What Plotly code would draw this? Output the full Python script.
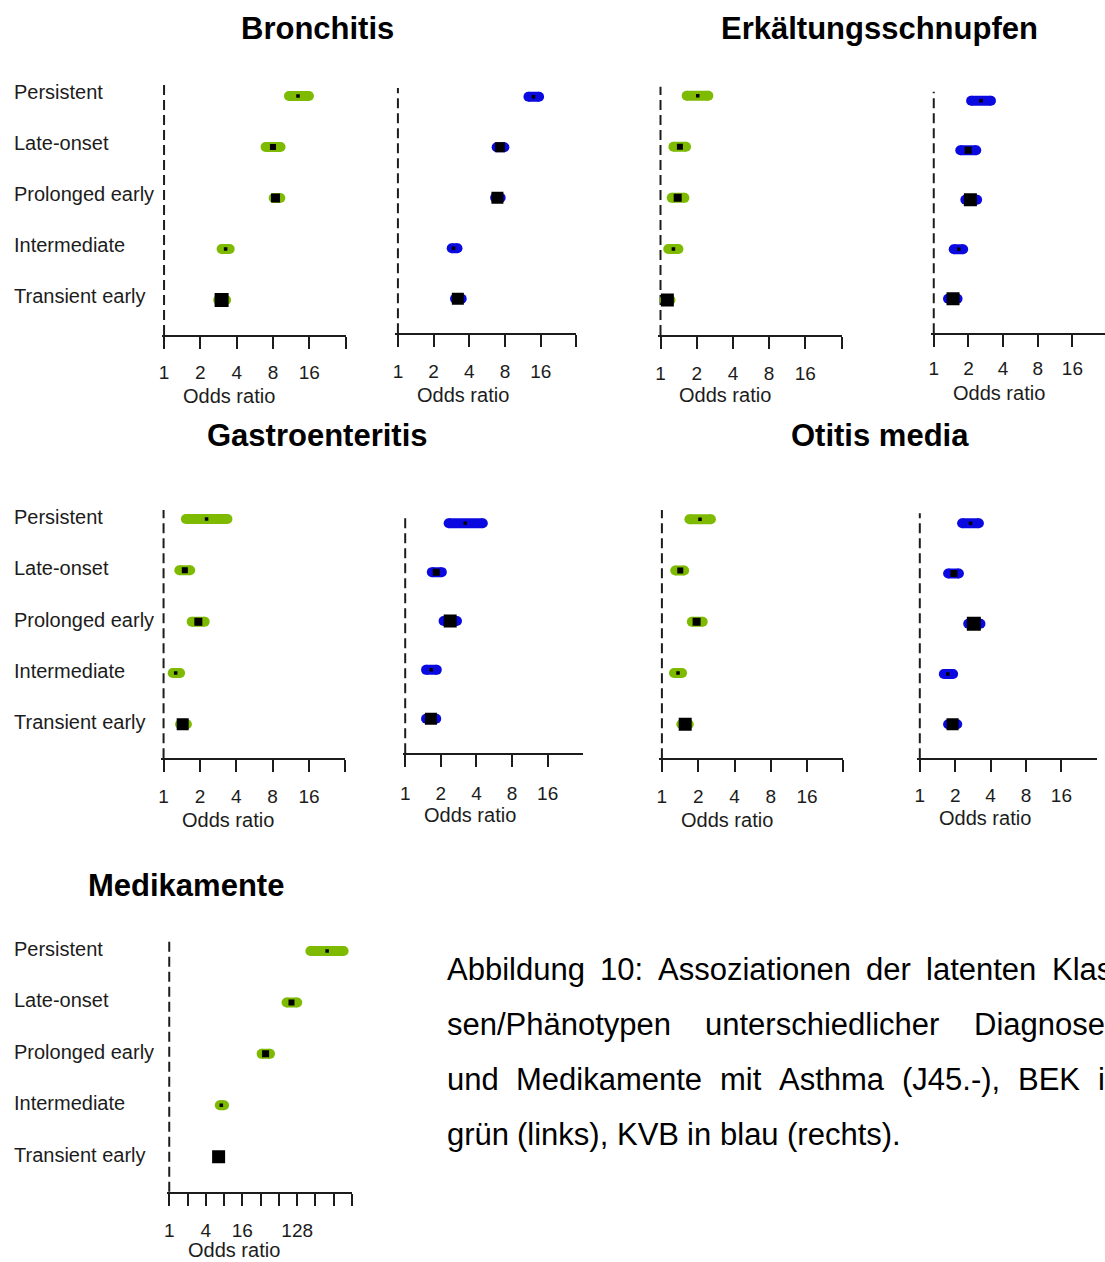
import math
import plotly.graph_objects as go

W, H = 1105, 1262
FONT = "Liberation Sans, Arial, Helvetica, sans-serif"
INK = "#1c1c1c"
GREEN = "#7dba00"
BLUE = "#0a0ae0"

# latent asthma classes, top row first
classes = ["Persistent", "Late-onset", "Prolonged early", "Intermediate", "Transient early"]

# odds ratios (point estimate, lower and upper 95% limit) per class
bronchitis_bek_or = [12.9, 8.0, 8.4, 3.24, 3.0]
bronchitis_bek_lo = [10.85, 6.95, 8.1, 3.0, 2.81]
bronchitis_bek_hi = [15.9, 9.25, 9.2, 3.5, 3.27]

bronchitis_kvb_or = [13.9, 7.25, 6.9, 2.94, 3.2]
bronchitis_kvb_lo = [12.6, 6.8, 6.6, 2.84, 3.03]
bronchitis_kvb_hi = [15.5, 7.9, 7.35, 3.18, 3.45]

erkaeltung_bek_or = [2.04, 1.45, 1.39, 1.28, 1.14]
erkaeltung_bek_lo = [1.65, 1.28, 1.24, 1.16, 1.08]
erkaeltung_bek_hi = [2.50, 1.63, 1.58, 1.41, 1.21]

erkaeltung_kvb_or = [2.57, 1.99, 2.08, 1.65, 1.47]
erkaeltung_kvb_lo = [2.11, 1.70, 1.88, 1.49, 1.33]
erkaeltung_kvb_hi = [3.14, 2.34, 2.38, 1.80, 1.61]

gastro_bek_or = [2.27, 1.50, 1.94, 1.26, 1.44]
gastro_bek_lo = [1.53, 1.35, 1.71, 1.19, 1.37]
gastro_bek_hi = [3.38, 1.66, 2.19, 1.37, 1.56]

gastro_kvb_or = [3.22, 1.83, 2.40, 1.66, 1.65]
gastro_kvb_lo = [2.33, 1.68, 2.11, 1.50, 1.50]
gastro_kvb_hi = [4.53, 2.04, 2.74, 1.85, 1.83]

otitis_bek_or = [2.07, 1.42, 1.94, 1.36, 1.56]
otitis_bek_lo = [1.69, 1.29, 1.77, 1.26, 1.45]
otitis_bek_hi = [2.55, 1.53, 2.18, 1.47, 1.67]

otitis_kvb_or = [2.70, 1.95, 2.88, 1.73, 1.90]
otitis_kvb_lo = [2.29, 1.74, 2.58, 1.60, 1.74]
otitis_kvb_hi = [3.18, 2.15, 3.28, 1.92, 2.08]

medikamente_bek_or = [398, 103, 38.6, 7.2, 6.5]
medikamente_bek_lo = [211, 85.5, 33.2, 6.8, 6.3]
medikamente_bek_hi = [744, 128, 45.6, 8.0, 6.7]

ticks_small = [1, 2, 4, 8, 16, 32]
ticklabels_small = ["1", "2", "4", "8", "16", ""]
ticks_large = [1, 2, 4, 8, 16, 32, 64, 128, 256, 512, 1024]
ticklabels_large = ["1", "", "4", "", "16", "", "", "128", "", "", ""]

titles = ["Bronchitis", "Erkältungsschnupfen", "Gastroenteritis", "Otitis media", "Medikamente"]

caption_lines = [
    ["Abbildung", "10:", "Assoziationen", "der", "latenten", "Klas-"],
    ["sen/Phänotypen", "unterschiedlicher", "Diagnosen"],
    ["und", "Medikamente", "mit", "Asthma", "(J45.-),", "BEK", "in"],
    ["grün", "(links),", "KVB", "in", "blau", "(rechts)."],
]

# ---- styling / page geometry (pixels) ----
# x_one: pixel of OR = 1, dbl: pixels per doubling, x_end: right end of axis,
# y_top: top of dashed reference line, y_axis: axis line, rows: first/last row centre,
# pad: tick-label standoff
square_px = {
    "bb": [3.5, 6, 9, 3.5, 14], "bk": [3.5, 10, 12, 3.5, 12],
    "eb": [3.5, 6, 8, 3.5, 13], "ek": [3.5, 7, 13, 3.5, 13],
    "gb": [3.5, 6, 8, 3.5, 12], "gk": [3.5, 7, 13, 3.5, 12],
    "ob": [3.5, 6, 8, 3.5, 13], "ok": [3.5, 7, 14, 3.5, 12],
    "mb": [3.5, 6, 7, 3.5, 13],
}

panels = [
    dict(key="bb", est=bronchitis_bek_or, lo=bronchitis_bek_lo, hi=bronchitis_bek_hi, color=GREEN,
         x_one=161.5, dbl=36.4, x_end=343.5, y_top=85, y_axis=335, rows=(96, 300), pad=7,
         ticks=ticks_small, labels=ticklabels_small, or_y=396, row_labels=True, lab_shift=4),
    dict(key="bk", est=bronchitis_kvb_or, lo=bronchitis_kvb_lo, hi=bronchitis_kvb_hi, color=BLUE,
         x_one=396, dbl=35.8, x_end=575, y_top=88, y_axis=333.3, rows=(96.7, 298.7), pad=8,
         ticks=ticks_small, labels=ticklabels_small, or_y=395, row_labels=False),
    dict(key="eb", est=erkaeltung_bek_or, lo=erkaeltung_bek_lo, hi=erkaeltung_bek_hi, color=GREEN,
         x_one=659.3, dbl=36.3, x_end=841, y_top=86.7, y_axis=335, rows=(95.7, 300), pad=8,
         ticks=ticks_small, labels=ticklabels_small, or_y=395, row_labels=False),
    dict(key="ek", est=erkaeltung_kvb_or, lo=erkaeltung_kvb_lo, hi=erkaeltung_kvb_hi, color=BLUE,
         x_one=933.3, dbl=34.75, x_end=1105, y_top=91.7, y_axis=333.3, rows=(100.7, 298.7), pad=5,
         ticks=ticks_small, labels=ticklabels_small, or_y=393, row_labels=False),
    dict(key="gb", est=gastro_bek_or, lo=gastro_bek_lo, hi=gastro_bek_hi, color=GREEN,
         x_one=161, dbl=36.46, x_end=343.3, y_top=510, y_axis=758.3, rows=(519, 724.3), pad=8,
         ticks=ticks_small, labels=ticklabels_small, or_y=820, row_labels=True, lab_shift=2),
    dict(key="gk", est=gastro_kvb_or, lo=gastro_kvb_lo, hi=gastro_kvb_hi, color=BLUE,
         x_one=403.3, dbl=35.7, x_end=581.7, y_top=513.3, y_axis=753.3, rows=(523.3, 718.7), pad=10,
         ticks=ticks_small, labels=ticklabels_small, or_y=815, row_labels=False),
    dict(key="ob", est=otitis_bek_or, lo=otitis_bek_lo, hi=otitis_bek_hi, color=GREEN,
         x_one=660.7, dbl=36.4, x_end=842.7, y_top=510, y_axis=758.3, rows=(519.3, 724.3), pad=8,
         ticks=ticks_small, labels=ticklabels_small, or_y=820, row_labels=False),
    dict(key="ok", est=otitis_kvb_or, lo=otitis_kvb_lo, hi=otitis_kvb_hi, color=BLUE,
         x_one=919.3, dbl=35.5, x_end=1096.7, y_top=513.3, y_axis=758.3, rows=(523.3, 724.3), pad=7,
         ticks=ticks_small, labels=ticklabels_small, or_y=818, row_labels=False),
    dict(key="mb", est=medikamente_bek_or, lo=medikamente_bek_lo, hi=medikamente_bek_hi, color=GREEN,
         x_one=166.7, dbl=18.33, x_end=350, y_top=941.7, y_axis=1191.7, rows=(951, 1156.7), pad=8,
         ticks=ticks_large, labels=ticklabels_large, or_y=1250, row_labels=True, lab_shift=2),
]

title_pos = [(315, 28), (879, 28), (315, 436), (879, 436), (183, 885)]
LEFT_PAD_PX = 2.5  # room left of OR = 1 so the dashed line is not clipped

fig = go.Figure()
layout = {}
shapes = []
annotations = []
cat_order = classes[::-1]  # bottom to top on the category axis

for i, p in enumerate(panels, start=1):
    xa = "x" if i == 1 else f"x{i}"
    ya = "y" if i == 1 else f"y{i}"
    xname = "xaxis" if i == 1 else f"xaxis{i}"
    yname = "yaxis" if i == 1 else f"yaxis{i}"

    row_top, row_bot = p["rows"]
    per_row = (row_bot - row_top) / 4
    y_lo = -(p["y_axis"] - row_bot) / per_row
    y_hi = 4 + (row_top - p["y_top"]) / per_row
    x_start = p["x_one"] - LEFT_PAD_PX
    log_per_px = math.log10(2) / p["dbl"]

    layout[xname] = dict(
        type="log", domain=[x_start / W, min(p["x_end"] / W, 1.0)],
        range=[-LEFT_PAD_PX * log_per_px, (p["x_end"] - p["x_one"]) * log_per_px], anchor=ya,
        showline=True, linecolor=INK, linewidth=2,
        ticks="outside", ticklen=12, tickwidth=2, tickcolor=INK,
        tickmode="array", tickvals=p["ticks"], ticktext=p["labels"],
        tickfont=dict(family=FONT, size=19, color=INK), ticklabelstandoff=p["pad"],
        showgrid=False, zeroline=False, fixedrange=True,
    )
    layout[yname] = dict(
        type="category", categoryarray=cat_order, categoryorder="array",
        domain=[1 - p["y_axis"] / H, 1 - p["y_top"] / H], range=[y_lo, y_hi],
        visible=False, anchor=xa, fixedrange=True,
    )

    # dashed reference line at OR = 1
    shapes.append(dict(type="line", xref=xa, yref=f"{ya} domain", x0=1, x1=1, y0=0, y1=1,
                       line=dict(color=INK, width=2, dash="10px,5px"), layer="below"))

    # confidence intervals: thick bars with rounded ends
    xs, ys = [], []
    for c, lo, hi in zip(classes, p["lo"], p["hi"]):
        xs += [lo, hi, None]
        ys += [c, c, None]
    fig.add_trace(go.Scatter(x=xs, y=ys, mode="lines", line=dict(color=p["color"], width=10),
                             xaxis=xa, yaxis=ya, hoverinfo="skip", showlegend=False))
    fig.add_trace(go.Scatter(x=p["lo"] + p["hi"], y=classes + classes, mode="markers",
                             marker=dict(symbol="circle", size=10, color=p["color"],
                                         opacity=1, line=dict(width=0)),
                             xaxis=xa, yaxis=ya, hoverinfo="skip", showlegend=False))
    # point estimates
    fig.add_trace(go.Scatter(x=p["est"], y=classes, mode="markers",
                             marker=dict(symbol="square", size=square_px[p["key"]], color="black",
                                         opacity=1, line=dict(width=0)),
                             xaxis=xa, yaxis=ya, showlegend=False))

    # axis title
    annotations.append(dict(text="Odds ratio", xref="paper", yref="paper",
                            x=(p["x_one"] + 65) / W, y=1 - p["or_y"] / H,
                            xanchor="center", yanchor="middle", showarrow=False,
                            font=dict(family=FONT, size=20, color=INK)))

    # class labels on the left-hand panels
    if p["row_labels"]:
        for c in classes:
            annotations.append(dict(text=c, xref="paper", yref=ya, x=9 / W, y=c,
                                    xanchor="left", yanchor="middle", yshift=p["lab_shift"],
                                    showarrow=False, font=dict(family=FONT, size=20, color=INK)))

for t, (tx, ty) in zip(titles, title_pos):
    annotations.append(dict(text=t, xref="paper", yref="paper", x=tx / W, y=1 - ty / H,
                            xanchor="center", yanchor="middle", showarrow=False,
                            font=dict(family=FONT, size=31, color="black", weight="bold")))

# caption: justified block text set word by word
ADV = {"A": 667, "B": 667, "D": 722, "E": 667, "J": 500, "K": 667, "M": 833, "P": 667, "V": 667,
       "a": 556, "b": 556, "c": 500, "d": 556, "e": 556, "g": 556, "h": 556, "i": 222, "k": 500,
       "l": 222, "m": 833, "n": 556, "o": 556, "p": 556, "r": 333, "s": 500, "t": 278, "u": 556,
       "y": 500, "z": 500, "ä": 556, "ü": 556, "0": 556, "1": 556, "4": 556, "5": 556,
       ":": 278, "/": 278, "(": 333, ")": 333, ".": 278, ",": 278, "-": 333, " ": 278}
CAP_SIZE = 31
CAP_LEFT, CAP_RIGHT = 443, 1120
cap_y = [969, 1024, 1079, 1134]


def word_width(w):
    return sum(ADV.get(ch, 556) for ch in w) * CAP_SIZE / 1000


for li, words in enumerate(caption_lines):
    widths = [word_width(w) for w in words]
    if li < len(caption_lines) - 1:
        gap = (CAP_RIGHT - CAP_LEFT - sum(widths)) / (len(words) - 1)
    else:
        gap = ADV[" "] * CAP_SIZE / 1000
    x = CAP_LEFT
    for w, wd in zip(words, widths):
        annotations.append(dict(text=w, xref="paper", yref="paper", x=x / W, y=1 - cap_y[li] / H,
                                xanchor="left", yanchor="middle", showarrow=False,
                                font=dict(family=FONT, size=CAP_SIZE, color="black")))
        x += wd + gap

fig.update_layout(
    width=W, height=H, margin=dict(l=0, r=0, t=0, b=0),
    paper_bgcolor="white", plot_bgcolor="white", showlegend=False,
    shapes=shapes, annotations=annotations, **layout,
)

fig.write_html("out.html")
